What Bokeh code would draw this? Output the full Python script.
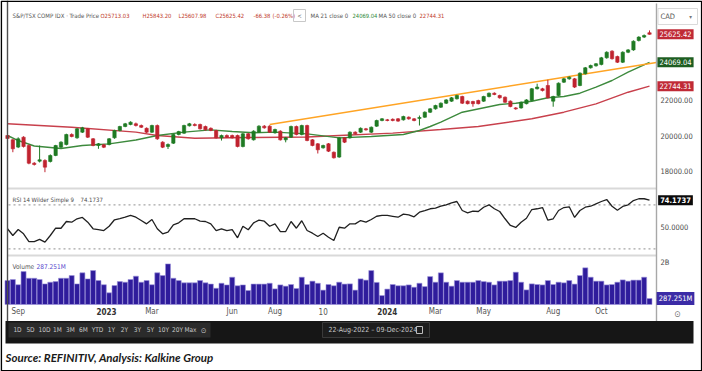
from bokeh.plotting import figure
from bokeh.models import Range1d, Label, BoxAnnotation, ColumnDataSource
from bokeh.embed import file_html
from bokeh.resources import INLINE

# ---------------- data (weekly, 22-Aug-2022 .. 09-Dec-2024) ----------------
opens = [20000, 19761, 19354, 19907, 19444, 18460, 18572, 18610, 18555, 18888,
         19350, 19500, 20055, 19870, 20185, 20370, 19815, 19444, 19480, 19500,
         19870, 20278, 20500, 20610, 20650, 20555, 20400, 20185, 20555, 19630,
         19390, 19574, 20055, 20130, 20540, 20610, 20610, 20500, 20400, 20278,
         19870, 20000, 20000, 20000, 19388, 20093, 19760, 20185, 20520, 20520,
         20150, 20240, 19760, 19907, 20500, 20055, 20555, 19760, 19537, 19315,
         19537, 19070, 18800, 19870, 19870, 20185, 20185, 20370, 20185, 20520,
         20834, 20870, 20900, 20926, 20870, 21018, 20926, 20950, 21018, 21296,
         21482, 21575, 21797, 21910, 22040, 22168, 21910, 21890, 21946, 21910,
         22168, 22350, 22224, 22130, 21910, 21535, 21535, 21770, 21946, 22597,
         22597, 22780, 21910, 22224, 22967, 23150, 23150, 22780, 23430, 23764,
         23875, 23950, 24320, 24690, 24390, 24075, 24630, 24760, 25280, 25470,
         25713.03]
highs = [20080, 19800, 19900, 19960, 19500, 18520, 19444, 18680, 18950, 19480,
         19680, 20100, 20120, 20420, 20480, 20420, 19860, 19580, 19530, 19860,
         20320, 20540, 20700, 20790, 20720, 20610, 20450, 20600, 20610, 19680,
         19560, 20100, 20260, 20600, 20700, 20680, 20660, 20550, 20450, 20320,
         20050, 20060, 20050, 20050, 20140, 20140, 20290, 20570, 20580, 20570,
         20380, 20290, 19920, 20550, 20550, 20600, 20600, 19800, 19580, 19490,
         19580, 19110, 19920, 19920, 20230, 20230, 20450, 20420, 20500, 20880,
         20970, 20920, 20950, 20970, 21100, 21060, 20970, 21110, 21340, 21520,
         21710, 21840, 22020, 22140, 22270, 22210, 21950, 21930, 21990, 22210,
         22390, 22400, 22270, 22170, 21950, 21580, 21890, 22020, 22640, 22880,
         22650, 23100, 22210, 22950, 23200, 23290, 23200, 23510, 23810, 23940,
         24030, 24370, 24680, 24740, 24440, 24680, 24810, 25290, 25520, 25620,
         25843.20]
lows = [19780, 19070, 19300, 19330, 18400, 18330, 18500, 17960, 18500, 18850,
        19300, 19450, 19900, 19820, 20140, 19860, 19400, 19260, 19300, 19450,
        19820, 20230, 20460, 20570, 20500, 20420, 20140, 20140, 19760, 19300,
        19250, 19530, 20010, 20090, 20500, 20510, 20330, 20270, 20240, 19830,
        19720, 19860, 19830, 19340, 19340, 19770, 19720, 20140, 20380, 20140,
        20100, 19720, 19620, 19860, 20010, 20010, 19680, 19400, 19000, 19270,
        19080, 18720, 18760, 19580, 19830, 20050, 20140, 20270, 20140, 20480,
        20790, 20790, 20790, 20760, 20830, 20880, 20790, 20555, 20980, 21250,
        21440, 21530, 21750, 21870, 22000, 21750, 21730, 21600, 21730, 21870,
        22120, 22240, 22050, 21810, 21570, 21430, 21490, 21730, 21900, 22560,
        22450, 22050, 21600, 22180, 22920, 23100, 22640, 22740, 23390, 23720,
        23830, 23900, 24270, 24220, 24030, 24030, 24580, 24710, 25230, 25420,
        25607.98]
closes = [19833, 19261, 19815, 19388, 18460, 18390, 18650, 18240, 18888, 19444,
          19630, 20055, 19944, 20370, 20426, 19907, 19444, 19537, 19350, 19815,
          20278, 20500, 20650, 20740, 20555, 20460, 20185, 20555, 19815, 19350,
          19500, 20055, 20220, 20555, 20650, 20555, 20370, 20315, 20280, 19870,
          20000, 19907, 19870, 19388, 20093, 19815, 20240, 20520, 20426, 20185,
          20333, 19760, 19870, 20500, 20055, 20555, 19722, 19444, 19205, 19444,
          19130, 18760, 19870, 19630, 20185, 20093, 20400, 20315, 20460, 20834,
          20926, 20834, 20834, 20800, 21056, 20926, 20834, 21000, 21296, 21482,
          21668, 21797, 21980, 22096, 22224, 21797, 21770, 21770, 21770, 22168,
          22350, 22280, 22096, 21850, 21612, 21482, 21850, 21980, 22597, 22690,
          22500, 22096, 22168, 22910, 23150, 23244, 22690, 23465, 23764, 23892,
          23986, 24320, 24630, 24270, 24075, 24630, 24760, 25240, 25470, 25560,
          25625.42]
volumes_bn = [1.15, 1.20, 0.95, 1.58, 1.26, 1.26, 1.20, 0.99, 1.07, 1.10,
              1.26, 1.26, 1.39, 0.99, 1.52, 1.23, 1.63, 1.15, 0.95, 0.56,
              0.91, 1.10, 1.07, 1.20, 1.36, 1.07, 1.15, 0.95, 1.52, 1.39,
              1.95, 1.26, 1.15, 1.04, 1.04, 1.04, 1.15, 1.04, 0.98, 0.78,
              1.02, 0.94, 1.31, 0.90, 0.94, 0.67, 0.98, 0.98, 0.98, 1.02,
              0.75, 0.94, 0.88, 0.96, 0.77, 1.31, 0.96, 1.12, 1.02, 0.69,
              0.96, 0.90, 1.07, 0.98, 0.99, 0.69, 1.23, 1.17, 1.63, 1.06,
              0.43, 0.74, 0.96, 0.90, 0.90, 0.94, 0.83, 1.02, 0.86, 1.34,
              1.07, 1.52, 1.07, 0.88, 1.15, 1.07, 1.07, 1.07, 1.15, 1.10,
              1.07, 0.94, 1.12, 1.12, 1.15, 1.55, 1.07, 0.70, 0.99, 0.96,
              0.94, 1.15, 0.96, 1.07, 1.04, 1.15, 0.98, 1.39, 1.76, 1.31,
              1.12, 1.12, 0.94, 0.96, 1.07, 1.18, 1.12, 1.17, 1.17, 1.31,
              0.287251]
rsi_values = [48.2, 42.1, 47.5, 43.6, 36.6, 36.6, 38.5, 36.0, 42.1, 48.7,
              48.7, 54.8, 54.2, 57.3, 58.5, 54.2, 48.2, 47.5, 46.6, 50.5,
              56.4, 57.5, 58.7, 60.3, 58.7, 55.7, 52.7, 56.6, 48.2, 43.6,
              45.1, 51.8, 53.6, 57.3, 57.5, 57.3, 55.2, 54.8, 52.7, 46.6,
              48.2, 46.6, 47.5, 40.0, 50.5, 47.3, 53.6, 56.0, 55.1, 50.5,
              52.7, 45.7, 45.7, 54.8, 48.7, 55.5, 46.6, 44.2, 41.2, 44.2,
              40.5, 37.5, 49.6, 48.7, 52.7, 52.7, 55.7, 54.2, 56.6, 59.6,
              60.3, 60.3, 59.5, 58.7, 61.5, 60.9, 59.1, 63.3, 64.8, 66.4,
              66.9, 68.7, 70.0, 71.8, 73.0, 64.8, 62.7, 64.2, 63.9, 67.8,
              70.0, 66.4, 63.9, 57.3, 51.2, 49.4, 54.2, 57.8, 65.7, 66.4,
              67.5, 56.0, 57.3, 64.8, 67.5, 68.2, 58.5, 64.8, 67.8, 68.7,
              70.9, 73.0, 74.8, 68.7, 65.1, 68.5, 70.0, 73.9, 75.5, 75.5,
              74.1737]
ma21_week = [0, 2, 5, 10, 14, 19, 24, 28, 33, 38, 42, 46, 50, 56, 62, 68, 74, 77, 79, 81,
             85, 92, 95, 98, 101, 104, 107, 110, 113, 116, 120]
ma21_value = [20000, 19720, 19416, 19277, 19444, 19537, 19750, 20000, 20185, 20315,
              20222, 20150, 20185, 20092, 19870, 19944, 20055, 20278, 20500, 20740,
              21295, 21724, 21796, 21907, 22096, 22168, 22352, 22685, 23058, 23520, 24069.04]
ma50_week = [0, 12, 24, 28, 35, 45, 56, 62, 72, 81, 88, 98, 104, 110, 116, 120]
ma50_value = [20650, 20460, 20185, 20000, 19850, 19890, 19917, 20000, 20130, 20333,
              20500, 20930, 21296, 21762, 22407, 22744.31]
trend_week = [49, 121.3]
trend_value = [20612, 24060]

price_ticks = [18000, 20000, 22000]
rsi_levels = [70, 30]
rsi_tick = 50
vol_tick = 2e9
month_ticks = [2, 27, 42, 50, 59, 80, 89, 102, 111]
month_labels = ["Sep", "Mar", "Jun", "Aug", "10", "Mar", "May", "Aug", "Oct"]
year_ticks = [18.5, 71]
year_labels = ["2023", "2024"]
buttons = ["1D", "5D", "10D", "1M", "3M", "6M", "YTD", "1Y", "2Y", "3Y", "5Y", "10Y", "20Y", "Max"]

# ---------------- layout helpers (reference-pixel space) ----------------
W, H = 702, 371

def idx_at(X): return (X - 7) / 5.35
def price_at(Y): return 20000 + (135 - Y) * 55.6
def rsi_at(Y): return 50 + (226.3 - Y) / 1.1
def vol_at(Y): return (304 - Y) * 48e6

NARROW = "Liberation Sans Narrow, DejaVu Sans Condensed, sans-serif"
GREEN, RED = "#1f7a23", "#c0232f"

p = figure(width=W, height=H, output_backend="svg", toolbar_location=None,
           x_range=Range1d(idx_at(0), idx_at(W)),
           y_range=Range1d(price_at(H), price_at(0)),
           x_axis_location=None, y_axis_location=None, title=None,
           min_border=0, background_fill_color="white", border_fill_color="white",
           outline_line_color=None)
p.extra_y_ranges = {"rsi": Range1d(rsi_at(H), rsi_at(0)),
                    "vol": Range1d(vol_at(H), vol_at(0)),
                    "py": Range1d(-H, 0)}
p.extra_x_ranges = {"px": Range1d(0, W)}
p.xgrid.visible = False
p.ygrid.visible = False


def box(l, r, t, b, fill=None, line=None, lw=1.0):
    p.add_layout(BoxAnnotation(left=l, right=r, top=-t, bottom=-b,
                               x_range_name="px", y_range_name="py",
                               fill_color=fill if fill else "white",
                               fill_alpha=1 if fill else 0,
                               line_color=line if line else "white",
                               line_alpha=1 if line else 0,
                               line_width=lw))


def lab(x, y, text, size="6px", color="#4a4a4a", align="left", style="normal",
        font=NARROW, xr="px", yr="py", bg=None, pad=0):
    yy = -y if yr == "py" else y
    kw = dict(x=x, y=yy, text=text, text_font=font, text_font_size=size,
              text_color=color, text_align=align, text_baseline="middle",
              text_font_style=style, x_range_name=xr, y_range_name=yr)
    if bg:
        kw.update(background_fill_color=bg, padding=pad)
    p.add_layout(Label(**kw))


# ---------------- panel structure ----------------
box(7, 656, 187, 189, fill="#d9d9d9")
box(7, 656, 254, 256, fill="#d9d9d9")
for lvl in rsi_levels:
    p.line([8, 655], [lvl, lvl], x_range_name="px", y_range_name="rsi",
           line_color="#a6a6a6", line_width=1.2, line_dash="2 3")

# ---------------- price panel ----------------
weeks = list(range(len(closes)))
p.line(ma50_week, ma50_value, line_color="#c8404c", line_width=1.4)
p.line(ma21_week, ma21_value, line_color="#3d8a3d", line_width=1.4)
p.line(trend_week, trend_value, line_color="#ffa424", line_width=1.6)

colors = [GREEN if c >= o else RED for o, c in zip(opens, closes)]
src = ColumnDataSource(dict(x=weeks, o=opens, h=highs, l=lows, c=closes,
                            top=[max(o, c) for o, c in zip(opens, closes)],
                            bot=[min(o, c) for o, c in zip(opens, closes)],
                            col=colors))
p.segment(x0="x", y0="l", x1="x", y1="h", color="col", line_width=1, source=src)
p.vbar(x="x", width=0.62, top="top", bottom="bot", fill_color="col",
       line_color="col", line_width=0.6, source=src)

# ---------------- RSI panel ----------------
p.line(weeks, rsi_values, y_range_name="rsi", line_color="#202020", line_width=1.3)

# ---------------- volume panel ----------------
p.vbar(x=weeks, width=0.94, top=[v * 1e9 for v in volumes_bn], bottom=0,
       y_range_name="vol", fill_color="#2f1c9c", line_color="#9d93db", line_width=0.6)

# ---------------- frame lines ----------------
box(6.3, 7.7, 0, 320.5, fill="#4d4d4d")
box(655.3, 656.7, 3, 320.5, fill="#a8a8a8")

# ---------------- header ----------------
lab(12, 15, "S&P/TSX COMP IDX \u00b7 Trade Price", color="#555555")
for hx, ht in zip([100, 142, 178, 215, 253, 272],
                  ["O25713.03", "H25843.20", "L25607.98", "C25625.42", "-66.38", "(-0.26%)"]):
    lab(hx, 15, ht, size="5.8px", color="#c0392b")
box(293, 305, 9, 21, line="#c8c8c8")
lab(299, 15, "<", align="center", color="#555555")
lab(310, 15, "MA 21 close 0", color="#555555")
lab(352, 15, "24069.04", size="5.8px", color="#2f8a3a")
lab(378, 15, "MA 50 close 0", color="#555555")
lab(419, 15, "22744.31", size="5.8px", color="#c0392b")
box(657.5, 697, 8, 24, line="#dadada")
lab(660, 16, "CAD", size="7.5px", color="#555555")
lab(690, 16, "\u25be", size="6px", color="#777777", align="center")

# ---------------- right scale ----------------
for t in price_ticks:
    lab(660, t, f"{t:.2f}", size="7.5px", color="#4a4a4a", yr="default")
lab(660, rsi_tick, "50.0000", size="7.5px", color="#4a4a4a", yr="rsi")
lab(660, vol_tick, "2B", size="7.5px", color="#4a4a4a", yr="vol")

lab(675, closes[-1], "25625.42", size="7.5px", color="white", align="center",
    yr="default", bg="#c02a36", pad=2)
lab(675, ma21_value[-1], "24069.04", size="7.5px", color="white", align="center",
    yr="default", bg="#1e5e22", pad=2)
lab(675, ma50_value[-1], "22744.31", size="7.5px", color="white", align="center",
    yr="default", bg="#c02a36", pad=2)
lab(675, rsi_values[-1], "74.1737", size="7.5px", color="white", align="center",
    yr="rsi", bg="#0a0a0a", pad=2, style="bold")
lab(675, volumes_bn[-1] * 1e9, "287.251M", size="7.5px", color="white", align="center",
    yr="vol", bg="#3b2ba6", pad=2)

# ---------------- panel titles ----------------
lab(12, 199, "RSI 14 Wilder Simple 9", color="#4a4a4a")
lab(80, 199, "74.1737", color="#4a4a4a")
lab(12, 266, "Volume", size="6.5px", color="#555555")
lab(36, 266, "287.251M", size="6.5px", color="#5646cc")

# ---------------- time axis ----------------
for t, s in zip(month_ticks, month_labels):
    lab(t, 311, s, size="8px", color="#555555", align="center", xr="default")
for t, s in zip(year_ticks, year_labels):
    lab(t, 311, s, size="8px", color="#333333", align="center", style="bold", xr="default")
lab(677, 313, "\u2299", size="9px", color="#777777", align="center")

# ---------------- bottom tool bar ----------------
box(5, 693, 320.5, 343, fill="#161616")
box(8, 210, 322, 337, fill="#2b2b2b")
btn_x = [17, 30, 44, 57, 70, 83, 97, 111, 124, 137, 150, 163, 177, 190]
for bx, b in zip(btn_x, buttons):
    lab(bx, 329.5, b, size="6.5px", color="#c8c8c8", align="center")
lab(203, 329.5, "\u2299", size="7.5px", color="#c8c8c8", align="center")
box(322, 429, 322, 337, fill="#1d1d1d", line="#3a3a3a")
lab(328, 329.5, "22-Aug-2022 \u2013 09-Dec-2024", size="7px", color="#c8c8c8")
box(416, 422, 326, 333, line="#bdbdbd")

# ---------------- source line ----------------
lab(5, 357, "Source: REFINITIV, Analysis: Kalkine Group", size="11.5px", color="#1a1a1a",
    style="bold italic", font="Lato")

# ---------------- outer frame ----------------
box(0.8, 701.2, 0.8, 370.2, line="#000000", lw=1.6)

open("out.html", "w").write(file_html(p, INLINE))
